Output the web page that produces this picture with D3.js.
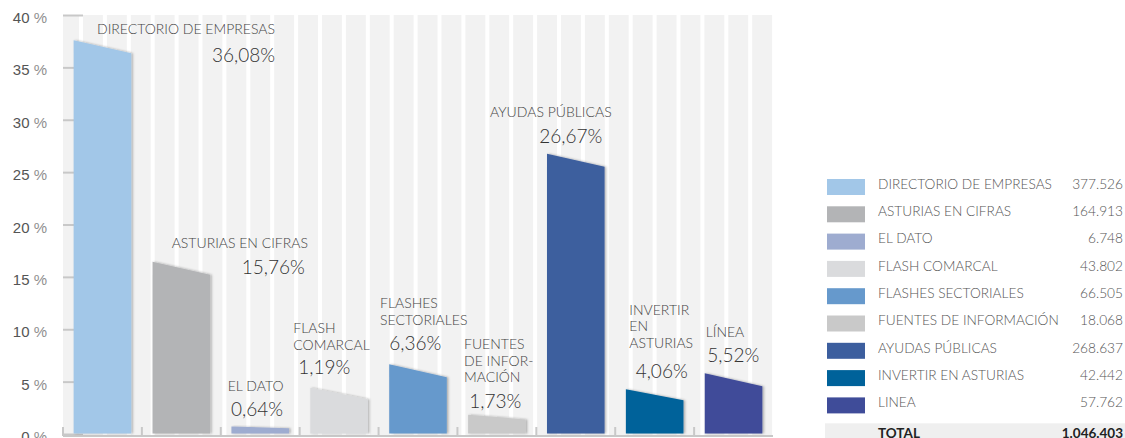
<!DOCTYPE html>
<html><head><meta charset="utf-8">
<script src="https://cdn.jsdelivr.net/npm/d3@7"></script>
<style>
html,body{margin:0;padding:0;background:#fff;}
svg{display:block;font-family:Lato,"Open Sans",sans-serif;}
</style></head>
<body>
<svg id="chart" width="1125" height="438"></svg>
<script>
// ---- data ----
const categories = ["DIRECTORIO DE EMPRESAS","ASTURIAS EN CIFRAS","EL DATO","FLASH COMARCAL","FLASHES SECTORIALES","FUENTES DE INFORMACIÓN","AYUDAS PÚBLICAS","INVERTIR EN ASTURIAS","LINEA"];
const chartLabels = [["DIRECTORIO DE EMPRESAS"],["ASTURIAS EN CIFRAS"],["EL DATO"],["FLASH","COMARCAL"],["FLASHES","SECTORIALES"],["FUENTES","DE INFOR-","MACIÓN"],["AYUDAS PÚBLICAS"],["INVERTIR","EN","ASTURIAS"],["LÍNEA"]];
const counts = [377526,164913,6748,43802,66505,18068,268637,42442,57762];
const countLabels = ["377.526","164.913","6.748","43.802","66.505","18.068","268.637","42.442","57.762"];
const percentLabels = ["36,08%","15,76%","0,64%","1,19%","6,36%","1,73%","26,67%","4,06%","5,52%"];
const totalLabel = "1.046.403";
const yTicks = [0,5,10,15,20,25,30,35,40];
const colors = ["#a2c7e8","#b3b4b6","#9eacd0","#dadbdd","#6699cc","#c9c9c9","#3c5e9e","#00629a","#3f4c99"];

// ---- layout (annotation anchors, px) ----
const labelLayout = [
  {lx:97, ly:34.3, px:212, py:61.7},
  {lx:171.7, ly:248.3, px:241.7, py:274},
  {lx:227.7, ly:391, px:231, py:415.7},
  {lx:293.3, ly:333.3, px:298.3, py:374},
  {lx:380, ly:308.3, px:389.3, py:350},
  {lx:464, ly:349.3, px:469.3, py:407.7},
  {lx:490, ly:116.7, px:539.3, py:142.7},
  {lx:629.3, ly:315, px:635.7, py:378.3},
  {lx:705.7, ly:336.7, px:707.3, py:361.7}
];

const total = d3.sum(counts);
const shares = counts.map(c => c / total * 100);

const svg = d3.select("#chart");
const plotL = 63, plotR = 773, plotTop = 15, axisY = 436;

const x = d3.scaleBand().domain(categories).range([plotL, plotR]).paddingInner(0.27).paddingOuter(0.135);
const yAxisScale = d3.scaleLinear().domain([0,40]).range([434,15]);
const yBar = d3.scaleLinear().domain([0,40]).range([433.5, 433.5 - 436]);

// shadow filter
const defs = svg.append("defs");
const f = defs.append("filter").attr("id","sh").attr("x","-10%").attr("y","-10%").attr("width","130%").attr("height","130%");
f.append("feDropShadow").attr("dx",1.5).attr("dy",0).attr("stdDeviation",0.8).attr("flood-color","#000").attr("flood-opacity",0.3);

// striped background
const period = 23.9, gap = 4, firstGap = 79;
const gaps = d3.range(firstGap, plotR, period);
const edges = [plotL].concat(gaps.flatMap(g => [g, g + gap]));
const bg = svg.append("g");
for (let i = 0; i < edges.length; i += 2) {
  const a = edges[i], b = Math.min(edges[i+1] !== undefined ? edges[i+1] : plotR+2, plotR+2);
  if (b > a) bg.append("rect").attr("x",a).attr("y",plotTop).attr("width",b-a).attr("height",axisY-plotTop).attr("fill","#f2f2f2");
}

// y axis
const yAxis = d3.axisLeft(yAxisScale).tickValues(yTicks).tickSize(0).tickFormat("");
const ya = svg.append("g").attr("transform",`translate(${plotL},0)`).call(yAxis);
ya.select(".domain").remove();
ya.selectAll(".tick").append("line").attr("x1",0).attr("x2",20).attr("stroke","#c8c8c8").attr("stroke-width",2);
const yl = ya.selectAll(".tick").append("text").attr("x",-16).attr("y",7.5).attr("text-anchor","end")
  .attr("font-size",15).attr("fill","#555").attr("font-weight",300);
yl.append("tspan").text(d => d);
yl.append("tspan").attr("fill","#8f8f8f").attr("font-size",15).text(" %");

// x axis
const xAxis = d3.axisBottom(x).tickSize(0).tickFormat("");
const xa = svg.append("g").attr("transform",`translate(0,${axisY})`).call(xAxis);
xa.select(".domain").remove();
xa.append("line").attr("x1",plotL).attr("x2",plotR).attr("stroke","#c8c8c8").attr("stroke-width",2);
const bounds = categories.map(c => x(c) - x.step()*x.paddingInner()/2);
xa.selectAll(".sep").data(bounds).join("line").attr("class","sep")
  .attr("x1",d=>d).attr("x2",d=>d).attr("y1",0).attr("y2",-9).attr("stroke","#c8c8c8").attr("stroke-width",2);

// bars (slanted tops)
svg.append("g").selectAll("path").data(categories).join("path")
  .attr("filter","url(#sh)")
  .attr("fill",(d,i)=>colors[i])
  .attr("d",(d,i)=>{
    const x0 = x(d), x1 = x(d) + x.bandwidth();
    const base = yBar(0), top = yBar(shares[i]);
    const h = base - top;
    const slant = Math.min(13, h*0.25);
    return `M${x0},${base}L${x0},${top}L${x1},${top+slant}L${x1},${base}Z`;
  });

// labels
const lab = svg.append("g");
categories.forEach((c,i)=>{
  const L = labelLayout[i];
  const t = lab.append("text").attr("x",L.lx).attr("y",L.ly).attr("font-size",14).attr("fill","#444").attr("font-weight",300);
  chartLabels[i].forEach((line,j)=>{
    t.append("tspan").attr("x",L.lx).attr("y",L.ly + j*16.3).text(line);
  });
  lab.append("text").attr("x",L.px).attr("y",L.py).attr("font-size",19).attr("fill","#333").attr("font-weight",300).text(percentLabels[i]);
});

// legend
const lg = svg.append("g");
const lgY0 = 179, lgStep = 27.3;
categories.forEach((c,i)=>{
  const yy = lgY0 + i*lgStep;
  lg.append("rect").attr("x",827).attr("y",yy).attr("width",38).attr("height",16).attr("fill",colors[i]);
  lg.append("text").attr("x",878).attr("y",yy+9.8).attr("font-size",13.7).attr("fill","#555").attr("font-weight",300).text(c);
  lg.append("text").attr("x",1123).attr("y",yy+9.8).attr("text-anchor","end").attr("font-size",13.7).attr("fill","#555").attr("font-weight",300).text(countLabels[i]);
});
lg.append("rect").attr("x",825).attr("y",423.3).attr("width",300).attr("height",16).attr("fill","#efefef");
lg.append("text").attr("x",878).attr("y",437.5).attr("font-size",13.5).attr("font-weight",700).attr("fill","#222").text("TOTAL");
lg.append("text").attr("x",1123).attr("y",437.5).attr("text-anchor","end").attr("font-size",13.5).attr("font-weight",700).attr("fill","#222").text(totalLabel);
</script>
</body></html>
